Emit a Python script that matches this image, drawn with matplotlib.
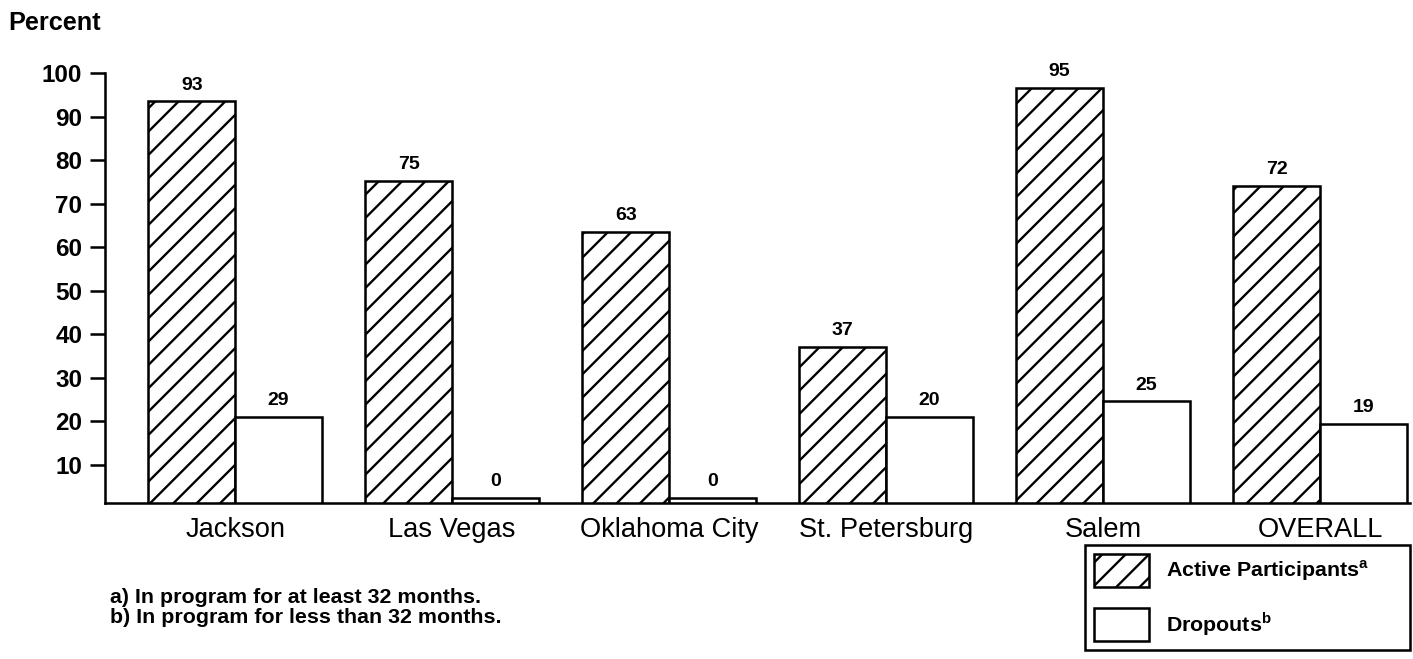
import matplotlib
matplotlib.use('Agg')
import matplotlib.pyplot as plt
import numpy as np

# values as drawn (bar heights) and as printed above the bars
sites = ['Jackson', 'Las Vegas', 'Oklahoma City', 'St. Petersburg', 'Salem', 'OVERALL']
active_height = [93.5, 75.3, 63.5, 37.2, 96.6, 74.0]
dropout_height = [21.0, 2.4, 2.4, 21.0, 24.6, 19.4]
active_text = ['93', '75', '63', '37', '95', '72']
dropout_text = ['29', '0', '0', '20', '25', '19']
yticks = [10, 20, 30, 40, 50, 60, 70, 80, 90, 100]
notes = ['a) In program for at least 32 months.',
         'b) In program for less than 32 months.']

plt.rcParams['font.family'] = ['Liberation Sans', 'DejaVu Sans']
plt.rcParams['mathtext.fontset'] = 'custom'
plt.rcParams['mathtext.rm'] = 'Liberation Sans'
plt.rcParams['mathtext.bf'] = 'Liberation Sans:bold'
plt.rcParams['hatch.linewidth'] = 1.2
plt.rcParams['hatch.color'] = 'black'

fig = plt.figure(figsize=(1413 / 140, 659 / 140), dpi=140)
ax = fig.add_axes([0.0743, 0.2367, 0.9236, 0.6525])

x = np.arange(len(sites))
w = 0.4
b1 = ax.bar(x - w / 2, active_height, w, facecolor='white', edgecolor='black',
            linewidth=1.3, hatch='//', label='Active Participants$^{\\mathbf{a}}$')
b2 = ax.bar(x + w / 2, dropout_height, w, facecolor='white', edgecolor='black',
            linewidth=1.3, label='Dropouts$^{\\mathbf{b}}$')
ax.bar_label(b1, labels=active_text, padding=4, fontsize=10, fontweight='bold')
ax.bar_label(b2, labels=dropout_text, padding=4, fontsize=10, fontweight='bold')

ax.set_xlim(-0.6, 5.415)
ax.set_ylim(1.26, 100)
ax.set_yticks(yticks)
ax.set_yticklabels([str(t) for t in yticks], fontsize=12.5, fontweight='bold')
ax.set_xticks(x)
ax.set_xticklabels(sites, fontsize=14)
ax.tick_params(axis='x', length=0, pad=7)
ax.tick_params(axis='y', length=7.7, width=1.3, pad=4)
for s in ['top', 'right']:
    ax.spines[s].set_visible(False)
for s in ['left', 'bottom']:
    ax.spines[s].set_linewidth(1.3)

fig.text(0.006, 0.965, 'Percent', fontsize=13, fontweight='bold', va='center')
fig.text(0.078, 0.0926, notes[0], fontsize=11, fontweight='bold', va='center')
fig.text(0.078, 0.0637, notes[1], fontsize=11, fontweight='bold', va='center')

leg = fig.legend(handles=[b1, b2], loc='upper left',
                 bbox_to_anchor=(0.768, 0.0, 0.23, 0.173),
                 mode='expand', borderaxespad=0, prop={'weight': 'bold', 'size': 11},
                 handlelength=2.6, handleheight=2.0, handletextpad=0.8,
                 labelspacing=1.0, borderpad=0.4, fancybox=False, framealpha=1,
                 edgecolor='black')
leg.get_frame().set_linewidth(1.3)

fig.savefig('out.png', dpi=140)
